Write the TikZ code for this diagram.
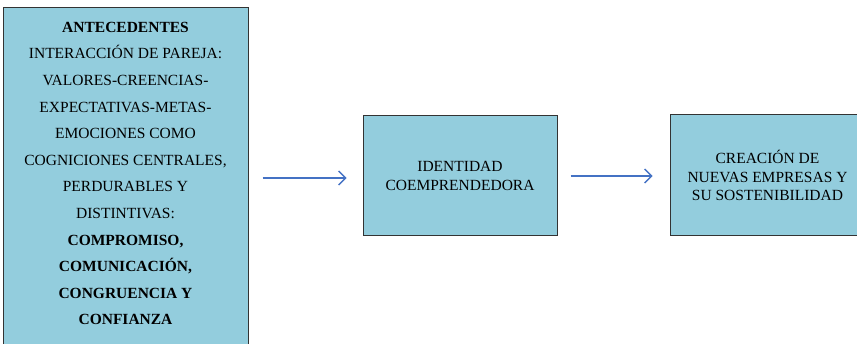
\documentclass[tikz,border=0pt]{standalone}
\usepackage{fontspec}
\setmainfont{Liberation Serif}
\usetikzlibrary{arrows.meta}
\definecolor{boxfill}{HTML}{93CDDD}
\definecolor{boxline}{HTML}{333333}
\definecolor{arrowblue}{HTML}{4472C4}
\tikzset{
  box/.style={draw=boxline, fill=boxfill, line width=1pt, inner sep=0pt},
  boxtext/.style={align=center, inner sep=0pt},
  flow/.style={draw=arrowblue, line width=1.3pt, -{Straight Barb[length=7pt,width=14pt,line width=1.3pt]}}
}
\begin{document}
\begin{tikzpicture}[x=1pt,y=-1pt]
\useasboundingbox (0,0) rectangle (857,344);
\begin{scope}
\clip (0,0) rectangle (857,344);
\node[box, minimum width=245pt, minimum height=352pt] (ante) at (125.5,184) {};
\node[boxtext, font=\fontsize{15.5}{26.6}\selectfont] (antetext) at (125.5,173.5)
 {\textbf{ANTECEDENTES}\\
  INTERACCIÓN DE PAREJA:\\
  VALORES-CREENCIAS-\\
  EXPECTATIVAS-METAS-\\
  EMOCIONES COMO\\
  COGNICIONES CENTRALES,\\
  PERDURABLES Y\\
  DISTINTIVAS:\\
  \textbf{COMPROMISO,}\\
  \textbf{COMUNICACIÓN,}\\
  \textbf{CONGRUENCIA Y}\\
  \textbf{CONFIANZA}};
\node[box, minimum width=194pt, minimum height=120pt, boxtext, font=\fontsize{15.5}{18.8}\selectfont] (ident) at (460,176)
 {IDENTIDAD\\COEMPRENDEDORA};
\node[box, minimum width=195pt, minimum height=121pt, boxtext, font=\fontsize{15.5}{18.5}\selectfont] (crea) at (767.5,175.5)
 {CREACIÓN DE\\NUEVAS EMPRESAS Y\\SU SOSTENIBILIDAD};
\end{scope}
\draw[flow, shorten <=14pt, shorten >=16pt] ([yshift=-2pt]ante.east |- ident.west) -- ([yshift=-2pt]ident.west);
\draw[flow, shorten <=13pt, shorten >=17pt] (ident.east) -- (ident.east -| crea.west);
\end{tikzpicture}
\end{document}
